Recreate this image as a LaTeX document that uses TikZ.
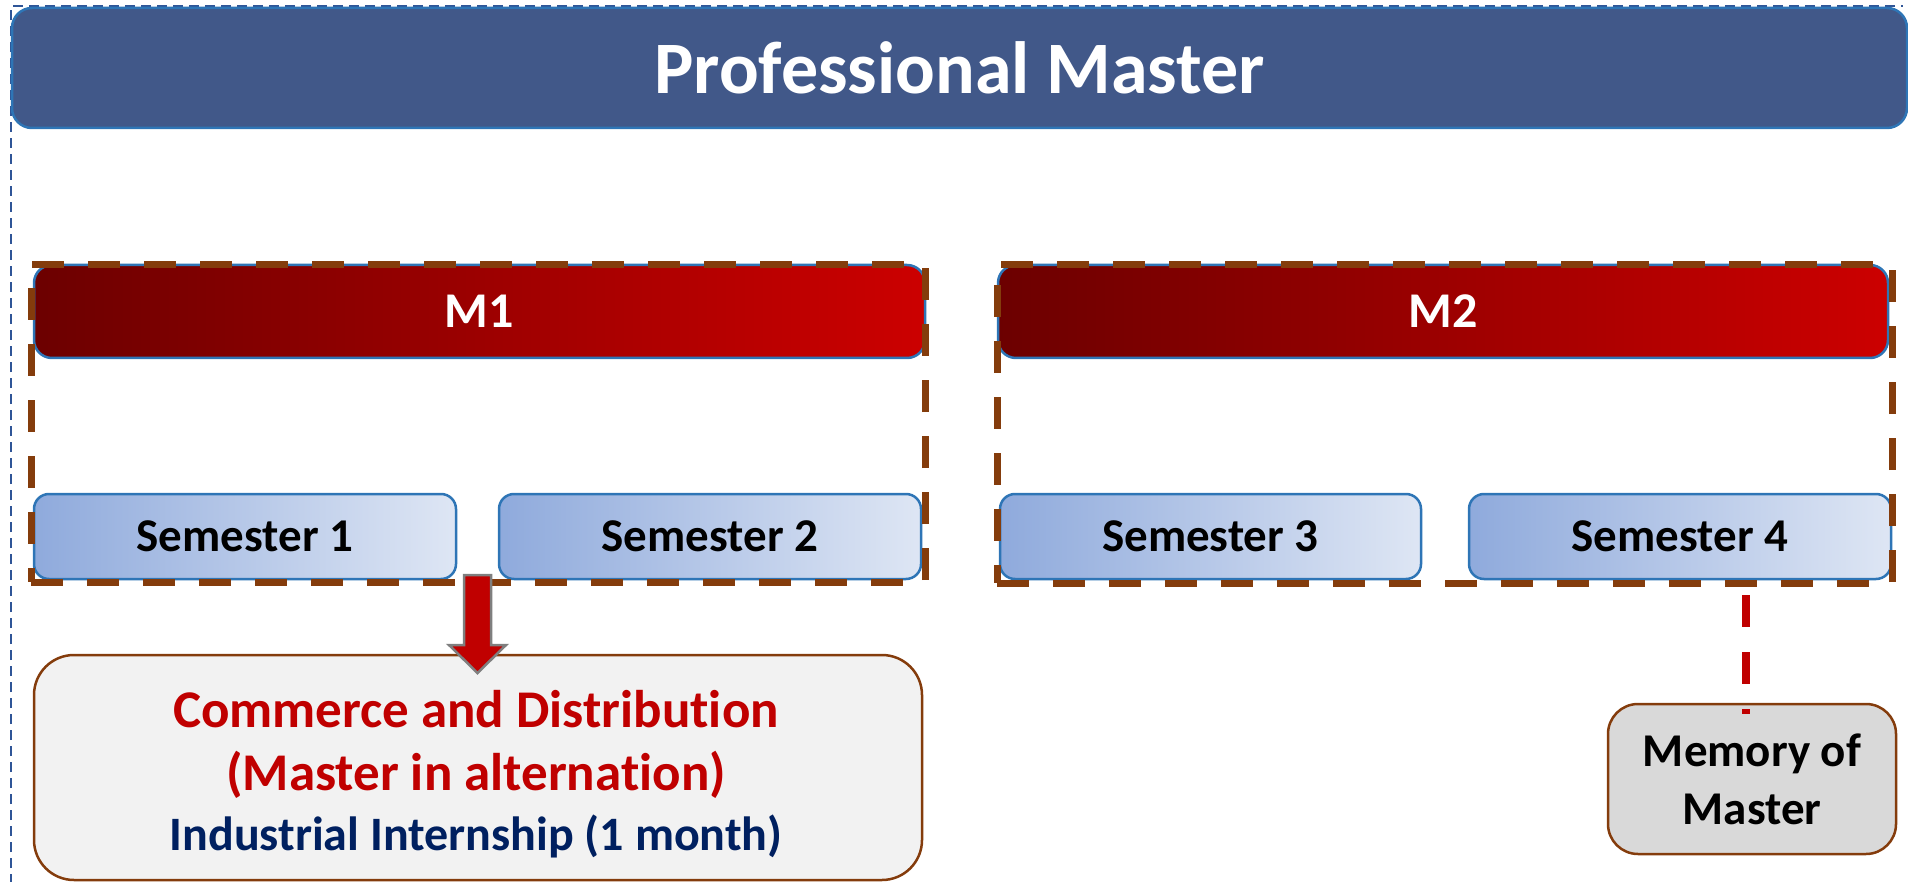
\documentclass[tikz,border=0pt]{standalone}
\usepackage{fontspec}
\setmainfont{Carlito}[Ligatures=NoCommon]
\usetikzlibrary{calc}
\definecolor{titleblue}{RGB}{65,88,137}
\definecolor{edgeblue}{RGB}{46,117,182}
\definecolor{brownd}{RGB}{132,60,12}
\definecolor{redd}{RGB}{192,0,0}
\definecolor{navyd}{RGB}{0,32,96}
\definecolor{outerblue}{RGB}{47,85,151}
\definecolor{mdark}{RGB}{108,0,0}
\definecolor{mlight}{RGB}{204,0,0}
\definecolor{semL}{RGB}{143,170,220}
\definecolor{semR}{RGB}{222,230,244}
\definecolor{boxgray}{RGB}{242,242,242}
\definecolor{memgray}{RGB}{217,217,217}
\definecolor{arrowgray}{RGB}{127,127,127}
\tikzset{
  titlebar/.style={draw=edgeblue, line width=2.5pt, rounded corners=20pt, fill=titleblue,
    text=white, font=\fontsize{74}{80}\selectfont\bfseries, inner sep=0pt,
    minimum width=1895pt, minimum height=120pt},
  mbar/.style={draw=edgeblue, line width=2.5pt, rounded corners=18pt, left color=mdark,
    right color=mlight, text=white, font=\fontsize{50}{60}\selectfont\bfseries, inner sep=0pt,
    minimum width=891pt, minimum height=93pt},
  sem/.style={draw=edgeblue, line width=2.5pt, rounded corners=15pt, left color=semL,
    right color=semR, font=\fontsize{47}{56}\selectfont\bfseries, inner sep=0pt,
    minimum width=422pt, minimum height=85pt},
  grp/.style={draw=brownd, line width=7pt, dash pattern=on 32pt off 24pt, inner sep=0pt},
  infobox/.style={draw=brownd, line width=2.5pt, rounded corners=40pt, fill=boxgray, inner sep=0pt},
  membox/.style={draw=brownd, line width=2.5pt, rounded corners=30pt, fill=memgray, inner sep=0pt,
    align=center, font=\fontsize{47}{58}\selectfont\bfseries,
    minimum width=288pt, minimum height=150pt},
  redtxt/.style={text=redd, font=\fontsize{53}{60}\selectfont\bfseries, anchor=base, inner sep=0pt},
  navytxt/.style={text=navyd, font=\fontsize{48}{56}\selectfont\bfseries, anchor=base, inner sep=0pt},
  blockarrow/.style={fill=redd, draw=arrowgray, line width=2.5pt, line join=miter},
  memlink/.style={draw=redd, line width=8pt, dash pattern=on 32pt off 25pt},
  outer/.style={draw=outerblue, line width=2.5pt, dash pattern=on 10pt off 6pt}
}
\begin{document}
\begin{tikzpicture}[x=1pt,y=-1pt]
\useasboundingbox (0,0) rectangle (1908,882);
\draw[outer] (11,900) -- (11,6) -- (1903,6);
\node[titlebar] (title) at (959.5,68) {Professional Master};
% bars and semesters
\node[mbar] (m1) at (479.5,311.5) {M1};
\node[mbar, minimum width=890pt] (m2) at (1443,311.5) {M2};
\node[sem] (sem1) at (245,536.5) {Semester 1};
\node[sem] (sem2) at (710,536.5) {Semester 2};
\node[sem, minimum width=421pt] (sem3) at (1210.5,536.5) {Semester 3};
\node[sem] (sem4) at (1680,536.5) {Semester 4};
% group frames
\node[grp, minimum width=894pt, minimum height=317pt] (g1) at (478,423.5) {};
\node[grp, minimum width=895pt, minimum height=318pt] (g2) at (1444.5,424) {};
% commerce box
\node[infobox, minimum width=888pt, minimum height=225pt] (comm) at (478,767.5) {};
\node[redtxt] (c1) at (476,727) {Commerce and Distribution};
\node[redtxt] (c2) at (476,790) {(Master in alternation)};
\node[navytxt] (c3) at (476,850) {Industrial Internship (1 month)};
% arrow
\coordinate (arrtop) at (477.5,575);
\coordinate (arrtip) at (477.5,673);
\draw[blockarrow] ($(arrtop)+(-13.5,0)$) -- ($(arrtop)+(13.5,0)$) -- ($(arrtip)+(13.5,-28)$)
  -- ($(arrtip)+(28.5,-28)$) -- (arrtip) -- ($(arrtip)+(-28.5,-28)$) -- ($(arrtip)+(-13.5,-28)$) -- cycle;
% memory
\node[membox] (mem) at (1752,779) {Memory of\\Master};
\coordinate (memtop) at (1746,595);
\draw[memlink] (memtop) -- ($(memtop |- mem.north)+(0,11)$);
\end{tikzpicture}
\end{document}
